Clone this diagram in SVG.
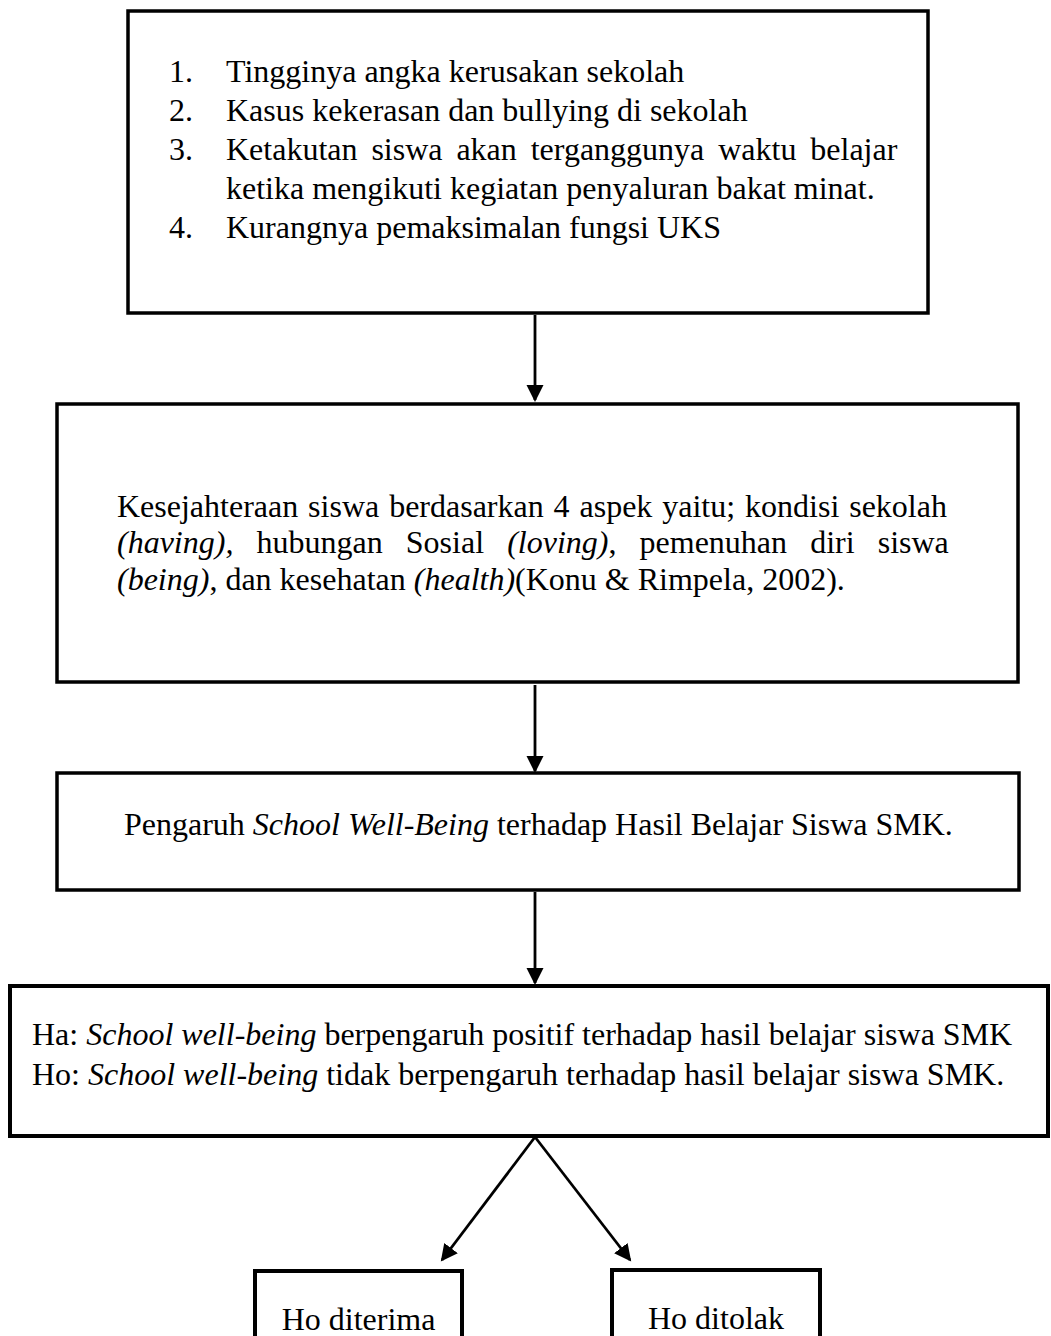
<svg xmlns="http://www.w3.org/2000/svg" width="1051" height="1336" viewBox="0 0 1051 1336">
<style>
  .box { fill: #fff; stroke: #000; stroke-width: 3.5; }
  .t { font-family: "Liberation Serif", "Times New Roman", serif; font-size: 32px; fill: #000; }
  .i { font-style: italic; }
  .c { stroke: #000; stroke-width: 2.8; fill: none; }
</style>
<defs>
  <marker id="ah" markerUnits="userSpaceOnUse" markerWidth="18" markerHeight="18" refX="15" refY="8.5" orient="auto">
    <path d="M0,0 L17,8.5 L0,17 Z" fill="#000"/>
  </marker>
</defs>
<rect width="1051" height="1336" fill="#fff"/>

<g id="connectors">
  <line class="c" x1="535" y1="315" x2="535" y2="400" marker-end="url(#ah)"/>
  <line class="c" x1="535" y1="685" x2="535" y2="771" marker-end="url(#ah)"/>
  <line class="c" x1="535" y1="892" x2="535" y2="983" marker-end="url(#ah)"/>
  <line class="c" x1="535" y1="1137" x2="442" y2="1260" marker-end="url(#ah)"/>
  <line class="c" x1="535" y1="1137" x2="630" y2="1260" marker-end="url(#ah)"/>
</g>

<g id="node-masalah">
  <rect class="box" x="128" y="11" width="800" height="302"/>
  <text class="t" x="169" y="82">1.</text>
  <text class="t" x="226" y="82">Tingginya angka kerusakan sekolah</text>
  <text class="t" x="169" y="121">2.</text>
  <text class="t" x="226" y="121">Kasus kekerasan dan bullying di sekolah</text>
  <text class="t" x="169" y="160">3.</text>
  <text class="t" x="226" y="160" word-spacing="5.9">Ketakutan siswa akan terganggunya waktu belajar</text>
  <text class="t" x="226" y="199">ketika mengikuti kegiatan penyaluran bakat minat.</text>
  <text class="t" x="169" y="238">4.</text>
  <text class="t" x="226" y="238">Kurangnya pemaksimalan fungsi UKS</text>
</g>

<g id="node-kesejahteraan">
  <rect class="box" x="57" y="404" width="961" height="278"/>
  <text class="t" x="117" y="517" word-spacing="1.9">Kesejahteraan siswa berdasarkan 4 aspek yaitu; kondisi sekolah</text>
  <text class="t" x="117" y="553" word-spacing="15.1"><tspan class="i">(having),</tspan> hubungan Sosial <tspan class="i">(loving)</tspan>, pemenuhan diri siswa</text>
  <text class="t" x="117" y="590"><tspan class="i">(being)</tspan>, dan kesehatan <tspan class="i">(health)</tspan>(Konu &amp; Rimpela, 2002).</text>
</g>

<g id="node-pengaruh">
  <rect class="box" x="57" y="773" width="962" height="117"/>
  <text class="t" x="124" y="835">Pengaruh <tspan class="i">School Well-Being</tspan> terhadap Hasil Belajar Siswa SMK.</text>
</g>

<g id="node-hipotesis">
  <rect class="box" x="10" y="986" width="1038" height="150" style="stroke-width:4"/>
  <text class="t" x="32" y="1045">Ha: <tspan class="i">School well-being</tspan> berpengaruh positif terhadap hasil belajar siswa SMK</text>
  <text class="t" x="32" y="1085">Ho: <tspan class="i">School well-being</tspan> tidak berpengaruh terhadap hasil belajar siswa SMK.</text>
</g>

<g id="node-diterima">
  <rect class="box" x="255" y="1271" width="207" height="80" style="stroke-width:4"/>
  <text class="t" x="358.5" y="1330" text-anchor="middle">Ho diterima</text>
</g>

<g id="node-ditolak">
  <rect class="box" x="612" y="1270" width="208" height="80" style="stroke-width:4"/>
  <text class="t" x="716" y="1329" text-anchor="middle">Ho ditolak</text>
</g>
</svg>
